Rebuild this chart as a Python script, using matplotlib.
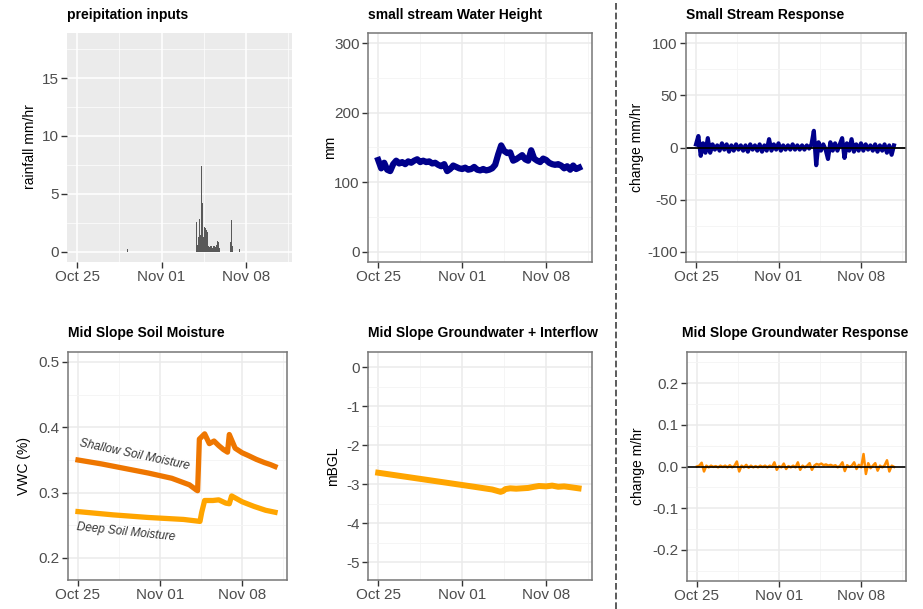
import numpy as np
import matplotlib.pyplot as plt
from matplotlib.lines import Line2D
from matplotlib.ticker import FixedLocator

plt.rcParams['font.family'] = ['Liberation Sans', 'DejaVu Sans']

# x axis is days since Oct 25 00:00
tick_days = [0, 7, 14]
tick_labels = ['Oct 25', 'Nov 01', 'Nov 08']

# hourly rainfall (only non-zero hours)
rain_days = [4.17, 4.21, 9.92, 9.96, 10.00, 10.04, 10.08, 10.13, 10.17, 10.21, 10.25,
             10.29, 10.33, 10.38, 10.42, 10.46, 10.50, 10.54, 10.58, 10.63, 10.67,
             10.71, 10.75, 10.79, 10.83, 10.88, 10.96, 11.04, 11.13, 11.21, 11.29,
             11.38, 11.46, 11.58, 11.63, 11.67, 11.71, 11.75, 11.79, 12.50, 12.71,
             12.75, 12.79, 12.83, 12.88, 12.92, 13.46, 16.33]
rain_mm = [0.2, 0.8, 2.6, 0.5, 0.6, 1.3, 1.3, 2.8, 1.3, 1.4, 1.2,
           1.4, 7.4, 4.2, 1.4, 1.0, 1.3, 2.1, 2.1, 2.0, 2.0,
           1.9, 1.9, 1.7, 1.2, 0.5, 0.4, 0.5, 0.5, 0.3, 0.5,
           0.5, 0.4, 0.6, 0.9, 0.9, 0.8, 0.6, 0.3, 0.1, 0.8,
           3.6, 2.7, 2.6, 0.5, 0.3, 0.2, 0.2]

# stream water height, 6-hourly
stream_days = [i * 0.25 for i in range(68)]
stream_mm = [132, 120, 128, 118, 116, 126, 131, 127, 129, 126, 130, 128,
             131, 133, 129, 131, 129, 130, 127, 128, 125, 123, 126, 116,
             119, 124, 122, 120, 119, 121, 118, 119, 122, 118, 117, 119,
             117, 118, 120, 125, 140, 153, 145, 142, 143, 131, 133, 136,
             139, 133, 131, 146, 134, 131, 129, 134, 132, 128, 126, 125,
             126, 124, 120, 123, 118, 124, 119, 121]

# stream response (change mm/hr)
resp_days = [i * 0.2 for i in range(85)]
stream_change = [3, 11, -8, 4, -5, 9, -5, 3, -2, 2, -3, 4, -2, 3, -4, 2, -3, 3, -2, 2,
                 -3, 2, -4, 3, -2, 2, -3, 3, -4, 2, -3, 8, -3, 3, -2, 4, -3, 2, -2, 2,
                 -2, 3, -2, 2, -2, 2, -2, 2, -1, 3, 16, -17, 5, -3, 3, -2, -11, 5, -3, 4,
                 -3, 3, 9, -10, 4, -3, 8, -4, 3, -3, 4, -3, 3, -2, 2, -3, 3, -4, 2, -3,
                 3, -5, 2, -7, 2]

# soil moisture
shallow_days = [0, 2, 4, 6, 8, 9.5, 10.1, 10.2, 10.35, 10.8, 11.2, 11.6, 12.0, 12.4,
                12.75, 12.9, 13.4, 14.0, 14.5, 15.2, 15.9, 16.4, 16.8]
shallow_vwc = [0.350, 0.344, 0.337, 0.330, 0.322, 0.312, 0.304, 0.303, 0.382, 0.390,
               0.375, 0.379, 0.372, 0.366, 0.362, 0.389, 0.368, 0.361, 0.357, 0.351,
               0.346, 0.343, 0.340]
deep_days = [0, 3, 6, 9, 10.4, 10.55, 10.8, 11.5, 12.0, 12.6, 12.9, 13.1, 14.0, 15.0,
             16.0, 16.8]
deep_vwc = [0.271, 0.266, 0.262, 0.259, 0.256, 0.270, 0.288, 0.288, 0.289, 0.284,
            0.283, 0.295, 0.286, 0.279, 0.273, 0.270]

# groundwater level
gw_days = [0, 2, 4, 6, 8, 9.5, 10.2, 10.4, 10.6, 11.0, 11.5, 12.0, 12.5, 13.0, 13.4,
           14.0, 14.5, 15.0, 15.5, 16.0, 16.7]
gw_mbgl = [-2.71, -2.80, -2.89, -2.98, -3.07, -3.14, -3.20, -3.18, -3.13, -3.11, -3.12,
           -3.11, -3.10, -3.07, -3.05, -3.06, -3.04, -3.07, -3.06, -3.08, -3.11]

# groundwater response (change m/hr)
gw_change = [0.0, 0.002, 0.009, -0.012, 0.002, -0.002, 0.002, -0.001, 0.001, -0.002,
             0.002, -0.001, 0.002, -0.002, 0.003, -0.002, 0.002, 0.012, -0.012, 0.002,
             -0.002, 0.004, -0.003, 0.002, -0.002, 0.001, -0.002, 0.002, -0.001, 0.002,
             -0.002, 0.002, -0.001, 0.010, -0.008, 0.001, -0.002, 0.007, -0.006, 0.001,
             -0.002, 0.002, -0.002, 0.010, -0.008, 0.002, -0.002, 0.002, 0.008, -0.008,
             0.002, 0.006, 0.004, 0.007, 0.003, 0.005, 0.002, 0.004, 0.001, 0.003,
             -0.002, 0.002, 0.010, -0.011, 0.003, -0.001, 0.002, 0.010, -0.006, 0.004,
             -0.002, 0.030, -0.018, 0.008, -0.004, 0.002, 0.008, -0.010, 0.002, -0.002,
             0.003, 0.015, -0.012, 0.002, -0.001]

W, H = 923, 609
XLIM = (-0.85, 17.82)


def box(x0, y0, x1, y1):
    return [x0 / W, 1 - y1 / H, (x1 - x0) / W, (y1 - y0) / H]


def style(ax, ylim, yticks, ylabels, yminor, grey=False):
    ax.set_xlim(*XLIM)
    ax.set_ylim(*ylim)
    ax.set_xticks(tick_days)
    ax.set_xticklabels(tick_labels)
    ax.set_yticks(yticks)
    ax.set_yticklabels(ylabels)
    ax.xaxis.set_minor_locator(FixedLocator([3.5, 10.5, 17.5]))
    ax.yaxis.set_minor_locator(FixedLocator(yminor))
    ax.set_axisbelow(True)
    if grey:
        ax.set_facecolor('#EBEBEB')
        ax.grid(which='major', color='white', lw=1.1)
        ax.grid(which='minor', color='white', lw=0.5)
        for s in ax.spines.values():
            s.set_visible(False)
    else:
        ax.grid(which='major', color='#EBEBEB', lw=1.1)
        ax.grid(which='minor', color='#F4F4F4', lw=0.6)
        for s in ax.spines.values():
            s.set_color('#777777')
            s.set_linewidth(1.1)
    ax.tick_params(which='minor', length=0)
    ax.tick_params(which='major', length=4, width=1, color='#333333',
                   labelsize=11, labelcolor='#4D4D4D', pad=2)


fig = plt.figure(figsize=(W / 100, H / 100), dpi=100)

# precipitation
ax1 = fig.add_axes(box(67, 33, 292, 262))
ax1.bar(rain_days, rain_mm, width=0.05, color='#595959')
style(ax1, (-0.9, 18.9), [0, 5, 10, 15], ['0', '5', '10', '15'], [2.5, 7.5, 12.5, 17.5], grey=True)

# stream height
ax2 = fig.add_axes(box(368, 33, 592, 262))
ax2.plot(stream_days, stream_mm, color='#00008B', lw=4.5, solid_joinstyle='round')
style(ax2, (-15, 315), [0, 100, 200, 300], ['0', '100', '200', '300'], [50, 150, 250])

# stream response
ax3 = fig.add_axes(box(686, 33, 906, 262))
ax3.plot(resp_days, stream_change, color='#00008B', lw=3)
ax3.axhline(0, color='black', lw=1.3)
style(ax3, (-110, 110), [-100, -50, 0, 50, 100], ['-100', '-50', '0', '50', '100'],
      [-75, -25, 25, 75])

# soil moisture
ax4 = fig.add_axes(box(68, 352, 287, 580))
ax4.plot(shallow_days, shallow_vwc, color='#EE7600', lw=3.8)
ax4.plot(deep_days, deep_vwc, color='#FFA500', lw=3.8)
ax4.text(4.78, 0.358, 'Shallow Soil Moisture', rotation=-12, style='italic',
         ha='center', va='center', fontsize=8.5, color='#333333')
ax4.text(4.1, 0.240, 'Deep Soil Moisture', rotation=-6, style='italic',
         ha='center', va='center', fontsize=8.5, color='#333333')
style(ax4, (0.1663, 0.5153), [0.2, 0.3, 0.4, 0.5], ['0.2', '0.3', '0.4', '0.5'],
      [0.25, 0.35, 0.45])

# groundwater
ax5 = fig.add_axes(box(368, 352, 592, 580))
ax5.plot(gw_days, gw_mbgl, color='#FFA500', lw=4.3)
style(ax5, (-5.46, 0.385), [-5, -4, -3, -2, -1, 0], ['-5', '-4', '-3', '-2', '-1', '0'],
      [-4.5, -3.5, -2.5, -1.5, -0.5])

# groundwater response
ax6 = fig.add_axes(box(687, 352, 906, 581))
ax6.plot(resp_days, gw_change, color='#FF8C00', lw=1.8)
ax6.axhline(0, color='black', lw=1.2)
style(ax6, (-0.275, 0.275), [-0.2, -0.1, 0.0, 0.1, 0.2], ['-0.2', '-0.1', '0.0', '0.1', '0.2'],
      [-0.25, -0.15, -0.05, 0.05, 0.15, 0.25])

# titles and y labels
titles = [(67, 15, 'preipitation inputs'), (368, 15, 'small stream Water Height'),
          (686, 15, 'Small Stream Response'), (68, 333, 'Mid Slope Soil Moisture'),
          (368, 333, 'Mid Slope Groundwater + Interflow'),
          (682, 333, 'Mid Slope Groundwater Response')]
for x, y, t in titles:
    fig.text(x / W, 1 - y / H, t, fontsize=10, fontweight='bold', ha='left', va='center')

ylabs = [(30, 147, 'rainfall mm/hr'), (330, 147, 'mm'), (637, 147, 'change mm/hr'),
         (24, 466, 'VWC (%)'), (333, 466, 'mBGL'), (638, 466, 'change m/hr')]
for x, y, t in ylabs:
    fig.text(x / W, 1 - y / H, t, fontsize=10, rotation=90, ha='center', va='center')

# dashed separator
fig.add_artist(Line2D([615.7 / W, 615.7 / W], [0, 1], transform=fig.transFigure,
                      color='#404040', lw=1.2, ls=(0, (4, 1.8))))

fig.savefig('out.png', dpi=100)
